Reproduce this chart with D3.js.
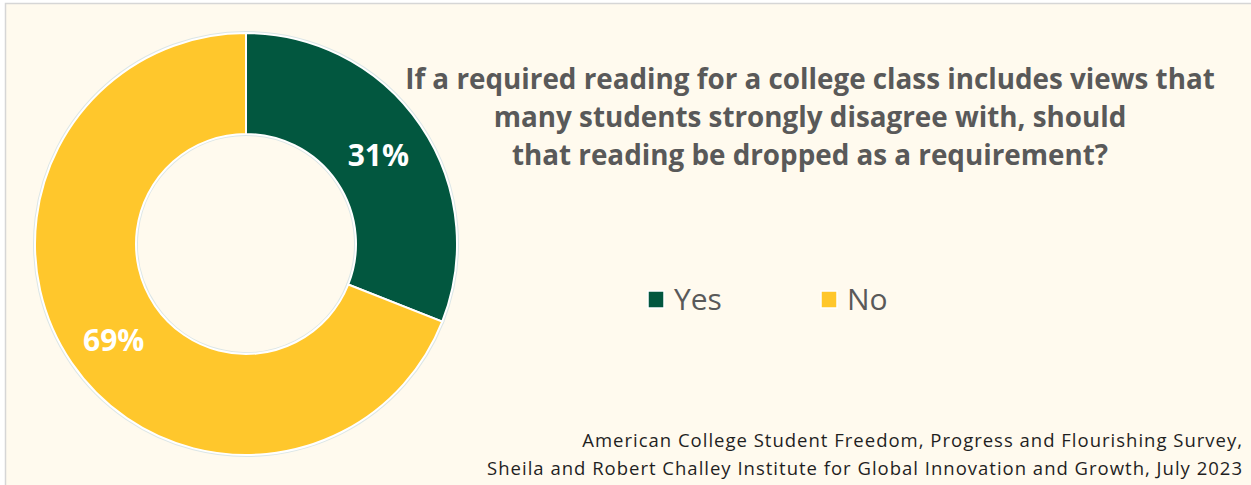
<!DOCTYPE html>
<html>
<head>
<meta charset="utf-8">
<script src="https://cdn.jsdelivr.net/npm/d3@7"></script>
<style>
  html, body { margin: 0; padding: 0; background: #ffffff; }
  svg { display: block; }
</style>
</head>
<body>
<svg id="chart" width="1251" height="485"></svg>
<script>
// Survey answers and their shares (percent)
const categories = ["Yes", "No"];
const values = [31, 69];
const colors = ["#02573F", "#FFC72C"];

const titleLines = [
  "If a required reading for a college class includes views that",
  "many students strongly disagree with, should",
  "that reading be dropped as a requirement?"
];
const sourceLines = [
  "American College Student Freedom, Progress and Flourishing Survey,",
  "Sheila and Robert Challey Institute for Global Innovation and Growth, July 2023"
];

const svg = d3.select("#chart");
const W = 1251, H = 485;

// panel background with a thin grey frame
svg.append("rect").attr("x", 5.5).attr("y", 3.5).attr("width", W).attr("height", H)
  .attr("fill", "#FFFAEE").attr("stroke", "#D6D6D6").attr("stroke-width", 1.5);

// donut
const cx = 246, cy = 244, rOuter = 211, rInner = 110;
const pie = d3.pie().sort(null).value(d => d.value);
const arc = d3.arc().innerRadius(rInner).outerRadius(rOuter);
const data = categories.map((c, i) => ({ name: c, value: values[i], color: colors[i] }));
const arcs = pie(data);

const g = svg.append("g").attr("transform", `translate(${cx},${cy})`);
g.selectAll("path.halo").data(arcs).join("path")
  .attr("class", "halo")
  .attr("d", arc)
  .attr("fill", "none")
  .attr("stroke", "#DCE6E6")
  .attr("stroke-width", 4);
g.selectAll("path.slice").data(arcs).join("path")
  .attr("class", "slice")
  .attr("d", arc)
  .attr("fill", d => d.data.color)
  .attr("stroke", "#ffffff")
  .attr("stroke-width", 2);

// percentage labels at the middle of each segment
const labelArc = d3.arc().innerRadius(160).outerRadius(160);
g.selectAll("text.pct").data(arcs).join("text")
  .attr("class", "pct")
  .attr("transform", d => {
    const [x, y] = labelArc.centroid(d);
    return `translate(${x},${y + (d.index === 1 ? 6 : 1)})`;
  })
  .attr("text-anchor", "middle")
  .attr("dy", "0.36em")
  .attr("fill", "#ffffff")
  .attr("font-family", "'Open Sans', sans-serif")
  .attr("font-weight", 700)
  .attr("font-size", 30)
  .text(d => d.data.value + "%");

// title
const title = svg.append("text")
  .attr("text-anchor", "middle")
  .attr("fill", "#595959")
  .attr("font-family", "'Open Sans', sans-serif")
  .attr("font-weight", 700)
  .attr("font-size", 27.8);
titleLines.forEach((t, i) => {
  title.append("tspan").attr("x", 810).attr("y", 89 + i * 38).text(t);
});

// legend
const legend = svg.append("g");
const legendX = [648, 821];
data.forEach((d, i) => {
  const lg = legend.append("g").attr("transform", `translate(${legendX[i]},0)`);
  lg.append("rect").attr("x", 0).attr("y", 291).attr("width", 16).attr("height", 17)
    .attr("fill", d.color).attr("stroke", "#ffffff").attr("stroke-width", 1.5);
  lg.append("text").attr("x", 26).attr("y", 310)
    .attr("fill", "#595959")
    .attr("font-family", "'Open Sans', sans-serif")
    .attr("font-size", 30)
    .text(d.name);
});

// source note
const src = svg.append("text")
  .attr("text-anchor", "end")
  .attr("fill", "#1F1F1F")
  .attr("font-family", "'Open Sans', sans-serif")
  .attr("font-size", 18.5)
  .attr("letter-spacing", 1.0);
sourceLines.forEach((t, i) => {
  src.append("tspan").attr("x", 1243).attr("y", 447 + i * 28).text(t);
});
</script>
</body>
</html>
